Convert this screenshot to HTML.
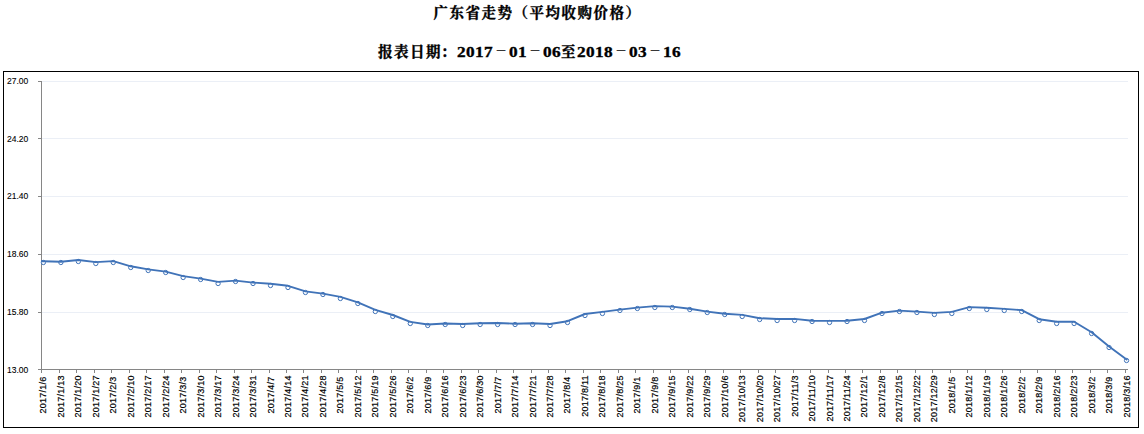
<!DOCTYPE html>
<html lang="zh-CN">
<head>
<meta charset="utf-8">
<title>广东省走势（平均收购价格）</title>
<style>
html,body{margin:0;padding:0;background:#fff;}
body{width:1144px;height:434px;position:relative;overflow:hidden;}
.t{position:absolute;white-space:nowrap;color:#000;font-family:"Liberation Serif","Noto Serif CJK SC",serif;font-weight:bold;font-size:14.5px;letter-spacing:1.5px;line-height:16px;height:16px;-webkit-text-stroke:0.35px #000;}
.t1{left:433.5px;top:5px;}
.t2{left:377px;top:43.5px;}
.t2 u{text-decoration:none;position:relative;left:1px;}
.t2 b{font-weight:bold;font-size:15px;letter-spacing:0.33px;display:inline-block;width:18px;transform:scaleX(1.15);transform-origin:0 50%;}
.t2 b.d4{width:36px;}
.t2 i{font-style:normal;display:inline-block;width:16px;letter-spacing:0;text-align:center;transform:scaleX(0.8);-webkit-text-stroke:0;font-weight:bold;position:relative;top:-1px;}
svg{position:absolute;left:0;top:0;}
.yl{font-family:"Liberation Sans",sans-serif;font-size:8.5px;fill:#000000;stroke:#000;stroke-width:0.1px;}
.xl{font-family:"Liberation Sans",sans-serif;font-size:9px;fill:#000000;letter-spacing:0.23px;stroke:#000;stroke-width:0.2px;}
</style>
</head>
<body>
<div class="t t1">广东省走势（平均收购价格）</div>
<div class="t t2"><u>报表日期</u>：<b class="d4">2017</b><i>－</i><b>01</b><i>－</i><b>06</b>至<b class="d4">2018</b><i>－</i><b>03</b><i>－</i><b>16</b></div>
<svg width="1144" height="434" viewBox="0 0 1144 434">
<rect x="3.5" y="71.5" width="1135" height="356" fill="none" stroke="#000" stroke-width="1" shape-rendering="crispEdges"/>
<g shape-rendering="crispEdges">
<rect x="42" y="81" width="1086" height="1" fill="#ebeff6"/>
<rect x="42" y="138" width="1086" height="1" fill="#ebeff6"/>
<rect x="42" y="196" width="1086" height="1" fill="#ebeff6"/>
<rect x="42" y="254" width="1086" height="1" fill="#ebeff6"/>
<rect x="42" y="312" width="1086" height="1" fill="#ebeff6"/>
<rect x="41" y="81" width="1" height="289" fill="#868686"/>
<rect x="41" y="369" width="1087" height="1" fill="#868686"/>
<rect x="38" y="81" width="3" height="1" fill="#868686"/>
<rect x="38" y="138" width="3" height="1" fill="#868686"/>
<rect x="38" y="196" width="3" height="1" fill="#868686"/>
<rect x="38" y="254" width="3" height="1" fill="#868686"/>
<rect x="38" y="312" width="3" height="1" fill="#868686"/>
<rect x="38" y="369" width="3" height="1" fill="#868686"/>
<rect x="41" y="370" width="1" height="3" fill="#868686"/>
<rect x="59" y="370" width="1" height="3" fill="#868686"/>
<rect x="76" y="370" width="1" height="3" fill="#868686"/>
<rect x="94" y="370" width="1" height="3" fill="#868686"/>
<rect x="111" y="370" width="1" height="3" fill="#868686"/>
<rect x="129" y="370" width="1" height="3" fill="#868686"/>
<rect x="146" y="370" width="1" height="3" fill="#868686"/>
<rect x="164" y="370" width="1" height="3" fill="#868686"/>
<rect x="181" y="370" width="1" height="3" fill="#868686"/>
<rect x="199" y="370" width="1" height="3" fill="#868686"/>
<rect x="216" y="370" width="1" height="3" fill="#868686"/>
<rect x="234" y="370" width="1" height="3" fill="#868686"/>
<rect x="251" y="370" width="1" height="3" fill="#868686"/>
<rect x="269" y="370" width="1" height="3" fill="#868686"/>
<rect x="286" y="370" width="1" height="3" fill="#868686"/>
<rect x="303" y="370" width="1" height="3" fill="#868686"/>
<rect x="321" y="370" width="1" height="3" fill="#868686"/>
<rect x="338" y="370" width="1" height="3" fill="#868686"/>
<rect x="356" y="370" width="1" height="3" fill="#868686"/>
<rect x="373" y="370" width="1" height="3" fill="#868686"/>
<rect x="391" y="370" width="1" height="3" fill="#868686"/>
<rect x="408" y="370" width="1" height="3" fill="#868686"/>
<rect x="426" y="370" width="1" height="3" fill="#868686"/>
<rect x="443" y="370" width="1" height="3" fill="#868686"/>
<rect x="461" y="370" width="1" height="3" fill="#868686"/>
<rect x="478" y="370" width="1" height="3" fill="#868686"/>
<rect x="496" y="370" width="1" height="3" fill="#868686"/>
<rect x="513" y="370" width="1" height="3" fill="#868686"/>
<rect x="531" y="370" width="1" height="3" fill="#868686"/>
<rect x="548" y="370" width="1" height="3" fill="#868686"/>
<rect x="565" y="370" width="1" height="3" fill="#868686"/>
<rect x="583" y="370" width="1" height="3" fill="#868686"/>
<rect x="600" y="370" width="1" height="3" fill="#868686"/>
<rect x="618" y="370" width="1" height="3" fill="#868686"/>
<rect x="635" y="370" width="1" height="3" fill="#868686"/>
<rect x="653" y="370" width="1" height="3" fill="#868686"/>
<rect x="670" y="370" width="1" height="3" fill="#868686"/>
<rect x="688" y="370" width="1" height="3" fill="#868686"/>
<rect x="705" y="370" width="1" height="3" fill="#868686"/>
<rect x="723" y="370" width="1" height="3" fill="#868686"/>
<rect x="740" y="370" width="1" height="3" fill="#868686"/>
<rect x="758" y="370" width="1" height="3" fill="#868686"/>
<rect x="775" y="370" width="1" height="3" fill="#868686"/>
<rect x="793" y="370" width="1" height="3" fill="#868686"/>
<rect x="810" y="370" width="1" height="3" fill="#868686"/>
<rect x="828" y="370" width="1" height="3" fill="#868686"/>
<rect x="845" y="370" width="1" height="3" fill="#868686"/>
<rect x="862" y="370" width="1" height="3" fill="#868686"/>
<rect x="880" y="370" width="1" height="3" fill="#868686"/>
<rect x="897" y="370" width="1" height="3" fill="#868686"/>
<rect x="915" y="370" width="1" height="3" fill="#868686"/>
<rect x="932" y="370" width="1" height="3" fill="#868686"/>
<rect x="950" y="370" width="1" height="3" fill="#868686"/>
<rect x="967" y="370" width="1" height="3" fill="#868686"/>
<rect x="985" y="370" width="1" height="3" fill="#868686"/>
<rect x="1002" y="370" width="1" height="3" fill="#868686"/>
<rect x="1020" y="370" width="1" height="3" fill="#868686"/>
<rect x="1037" y="370" width="1" height="3" fill="#868686"/>
<rect x="1055" y="370" width="1" height="3" fill="#868686"/>
<rect x="1072" y="370" width="1" height="3" fill="#868686"/>
<rect x="1090" y="370" width="1" height="3" fill="#868686"/>
<rect x="1107" y="370" width="1" height="3" fill="#868686"/>
<rect x="1125" y="370" width="1" height="3" fill="#868686"/>
</g>
<text class="yl" x="7" y="84.2">27.00</text>
<text class="yl" x="7" y="141.6">24.20</text>
<text class="yl" x="7" y="198.9">21.40</text>
<text class="yl" x="7" y="257.3">18.60</text>
<text class="yl" x="7" y="315.3">15.80</text>
<text class="yl" x="7" y="372.9">13.00</text>
<text class="xl" text-anchor="end" transform="translate(46.2,376.6) rotate(-90)">2017/1/6</text>
<text class="xl" text-anchor="end" transform="translate(64.2,375.3) rotate(-90)">2017/1/13</text>
<text class="xl" text-anchor="end" transform="translate(81.2,375.3) rotate(-90)">2017/1/20</text>
<text class="xl" text-anchor="end" transform="translate(99.2,375.3) rotate(-90)">2017/1/27</text>
<text class="xl" text-anchor="end" transform="translate(116.2,376.6) rotate(-90)">2017/2/3</text>
<text class="xl" text-anchor="end" transform="translate(134.2,375.3) rotate(-90)">2017/2/10</text>
<text class="xl" text-anchor="end" transform="translate(151.2,375.3) rotate(-90)">2017/2/17</text>
<text class="xl" text-anchor="end" transform="translate(169.2,375.3) rotate(-90)">2017/2/24</text>
<text class="xl" text-anchor="end" transform="translate(186.2,376.6) rotate(-90)">2017/3/3</text>
<text class="xl" text-anchor="end" transform="translate(204.2,375.3) rotate(-90)">2017/3/10</text>
<text class="xl" text-anchor="end" transform="translate(221.2,375.3) rotate(-90)">2017/3/17</text>
<text class="xl" text-anchor="end" transform="translate(239.2,375.3) rotate(-90)">2017/3/24</text>
<text class="xl" text-anchor="end" transform="translate(256.2,375.3) rotate(-90)">2017/3/31</text>
<text class="xl" text-anchor="end" transform="translate(274.2,376.6) rotate(-90)">2017/4/7</text>
<text class="xl" text-anchor="end" transform="translate(291.2,375.3) rotate(-90)">2017/4/14</text>
<text class="xl" text-anchor="end" transform="translate(308.2,375.3) rotate(-90)">2017/4/21</text>
<text class="xl" text-anchor="end" transform="translate(326.2,375.3) rotate(-90)">2017/4/28</text>
<text class="xl" text-anchor="end" transform="translate(343.2,376.6) rotate(-90)">2017/5/5</text>
<text class="xl" text-anchor="end" transform="translate(361.2,375.3) rotate(-90)">2017/5/12</text>
<text class="xl" text-anchor="end" transform="translate(378.2,375.3) rotate(-90)">2017/5/19</text>
<text class="xl" text-anchor="end" transform="translate(396.2,375.3) rotate(-90)">2017/5/26</text>
<text class="xl" text-anchor="end" transform="translate(413.2,376.6) rotate(-90)">2017/6/2</text>
<text class="xl" text-anchor="end" transform="translate(431.2,376.6) rotate(-90)">2017/6/9</text>
<text class="xl" text-anchor="end" transform="translate(448.2,375.3) rotate(-90)">2017/6/16</text>
<text class="xl" text-anchor="end" transform="translate(466.2,375.3) rotate(-90)">2017/6/23</text>
<text class="xl" text-anchor="end" transform="translate(483.2,375.3) rotate(-90)">2017/6/30</text>
<text class="xl" text-anchor="end" transform="translate(501.2,376.6) rotate(-90)">2017/7/7</text>
<text class="xl" text-anchor="end" transform="translate(518.2,375.3) rotate(-90)">2017/7/14</text>
<text class="xl" text-anchor="end" transform="translate(536.2,375.3) rotate(-90)">2017/7/21</text>
<text class="xl" text-anchor="end" transform="translate(553.2,375.3) rotate(-90)">2017/7/28</text>
<text class="xl" text-anchor="end" transform="translate(570.2,376.6) rotate(-90)">2017/8/4</text>
<text class="xl" text-anchor="end" transform="translate(588.2,375.3) rotate(-90)">2017/8/11</text>
<text class="xl" text-anchor="end" transform="translate(605.2,375.3) rotate(-90)">2017/8/18</text>
<text class="xl" text-anchor="end" transform="translate(623.2,375.3) rotate(-90)">2017/8/25</text>
<text class="xl" text-anchor="end" transform="translate(640.2,376.6) rotate(-90)">2017/9/1</text>
<text class="xl" text-anchor="end" transform="translate(658.2,376.6) rotate(-90)">2017/9/8</text>
<text class="xl" text-anchor="end" transform="translate(675.2,375.3) rotate(-90)">2017/9/15</text>
<text class="xl" text-anchor="end" transform="translate(693.2,375.3) rotate(-90)">2017/9/22</text>
<text class="xl" text-anchor="end" transform="translate(710.2,375.3) rotate(-90)">2017/9/29</text>
<text class="xl" text-anchor="end" transform="translate(728.2,375.3) rotate(-90)">2017/10/6</text>
<text class="xl" text-anchor="end" transform="translate(745.2,374.9) rotate(-90)">2017/10/13</text>
<text class="xl" text-anchor="end" transform="translate(763.2,374.9) rotate(-90)">2017/10/20</text>
<text class="xl" text-anchor="end" transform="translate(780.2,374.9) rotate(-90)">2017/10/27</text>
<text class="xl" text-anchor="end" transform="translate(798.2,375.3) rotate(-90)">2017/11/3</text>
<text class="xl" text-anchor="end" transform="translate(815.2,374.9) rotate(-90)">2017/11/10</text>
<text class="xl" text-anchor="end" transform="translate(833.2,374.9) rotate(-90)">2017/11/17</text>
<text class="xl" text-anchor="end" transform="translate(850.2,374.9) rotate(-90)">2017/11/24</text>
<text class="xl" text-anchor="end" transform="translate(867.2,375.3) rotate(-90)">2017/12/1</text>
<text class="xl" text-anchor="end" transform="translate(885.2,375.3) rotate(-90)">2017/12/8</text>
<text class="xl" text-anchor="end" transform="translate(902.2,374.9) rotate(-90)">2017/12/15</text>
<text class="xl" text-anchor="end" transform="translate(920.2,374.9) rotate(-90)">2017/12/22</text>
<text class="xl" text-anchor="end" transform="translate(937.2,374.9) rotate(-90)">2017/12/29</text>
<text class="xl" text-anchor="end" transform="translate(955.2,376.6) rotate(-90)">2018/1/5</text>
<text class="xl" text-anchor="end" transform="translate(972.2,375.3) rotate(-90)">2018/1/12</text>
<text class="xl" text-anchor="end" transform="translate(990.2,375.3) rotate(-90)">2018/1/19</text>
<text class="xl" text-anchor="end" transform="translate(1007.2,375.3) rotate(-90)">2018/1/26</text>
<text class="xl" text-anchor="end" transform="translate(1025.2,376.6) rotate(-90)">2018/2/2</text>
<text class="xl" text-anchor="end" transform="translate(1042.2,376.6) rotate(-90)">2018/2/9</text>
<text class="xl" text-anchor="end" transform="translate(1060.2,375.3) rotate(-90)">2018/2/16</text>
<text class="xl" text-anchor="end" transform="translate(1077.2,375.3) rotate(-90)">2018/2/23</text>
<text class="xl" text-anchor="end" transform="translate(1095.2,376.6) rotate(-90)">2018/3/2</text>
<text class="xl" text-anchor="end" transform="translate(1112.2,376.6) rotate(-90)">2018/3/9</text>
<text class="xl" text-anchor="end" transform="translate(1130.2,375.3) rotate(-90)">2018/3/16</text>
<circle cx="43.40" cy="262.50" r="2.15" fill="#fff" stroke="#4073b8" stroke-width="1"/>
<circle cx="60.87" cy="262.50" r="2.15" fill="#fff" stroke="#4073b8" stroke-width="1"/>
<circle cx="78.34" cy="261.50" r="2.15" fill="#fff" stroke="#4073b8" stroke-width="1"/>
<circle cx="95.81" cy="263.50" r="2.15" fill="#fff" stroke="#4073b8" stroke-width="1"/>
<circle cx="113.28" cy="262.50" r="2.15" fill="#fff" stroke="#4073b8" stroke-width="1"/>
<circle cx="130.75" cy="267.50" r="2.15" fill="#fff" stroke="#4073b8" stroke-width="1"/>
<circle cx="148.22" cy="270.50" r="2.15" fill="#fff" stroke="#4073b8" stroke-width="1"/>
<circle cx="165.69" cy="272.50" r="2.15" fill="#fff" stroke="#4073b8" stroke-width="1"/>
<circle cx="183.16" cy="277.50" r="2.15" fill="#fff" stroke="#4073b8" stroke-width="1"/>
<circle cx="200.63" cy="279.50" r="2.15" fill="#fff" stroke="#4073b8" stroke-width="1"/>
<circle cx="218.10" cy="283.50" r="2.15" fill="#fff" stroke="#4073b8" stroke-width="1"/>
<circle cx="235.57" cy="281.50" r="2.15" fill="#fff" stroke="#4073b8" stroke-width="1"/>
<circle cx="253.04" cy="283.50" r="2.15" fill="#fff" stroke="#4073b8" stroke-width="1"/>
<circle cx="270.51" cy="285.50" r="2.15" fill="#fff" stroke="#4073b8" stroke-width="1"/>
<circle cx="287.98" cy="287.50" r="2.15" fill="#fff" stroke="#4073b8" stroke-width="1"/>
<circle cx="305.45" cy="292.50" r="2.15" fill="#fff" stroke="#4073b8" stroke-width="1"/>
<circle cx="322.92" cy="294.50" r="2.15" fill="#fff" stroke="#4073b8" stroke-width="1"/>
<circle cx="340.39" cy="298.50" r="2.15" fill="#fff" stroke="#4073b8" stroke-width="1"/>
<circle cx="357.86" cy="303.50" r="2.15" fill="#fff" stroke="#4073b8" stroke-width="1"/>
<circle cx="375.33" cy="311.50" r="2.15" fill="#fff" stroke="#4073b8" stroke-width="1"/>
<circle cx="392.80" cy="316.50" r="2.15" fill="#fff" stroke="#4073b8" stroke-width="1"/>
<circle cx="410.27" cy="323.50" r="2.15" fill="#fff" stroke="#4073b8" stroke-width="1"/>
<circle cx="427.74" cy="325.50" r="2.15" fill="#fff" stroke="#4073b8" stroke-width="1"/>
<circle cx="445.21" cy="324.50" r="2.15" fill="#fff" stroke="#4073b8" stroke-width="1"/>
<circle cx="462.68" cy="325.50" r="2.15" fill="#fff" stroke="#4073b8" stroke-width="1"/>
<circle cx="480.15" cy="324.50" r="2.15" fill="#fff" stroke="#4073b8" stroke-width="1"/>
<circle cx="497.62" cy="324.50" r="2.15" fill="#fff" stroke="#4073b8" stroke-width="1"/>
<circle cx="515.09" cy="324.50" r="2.15" fill="#fff" stroke="#4073b8" stroke-width="1"/>
<circle cx="532.56" cy="324.50" r="2.15" fill="#fff" stroke="#4073b8" stroke-width="1"/>
<circle cx="550.03" cy="325.50" r="2.15" fill="#fff" stroke="#4073b8" stroke-width="1"/>
<circle cx="567.50" cy="322.50" r="2.15" fill="#fff" stroke="#4073b8" stroke-width="1"/>
<circle cx="584.97" cy="315.50" r="2.15" fill="#fff" stroke="#4073b8" stroke-width="1"/>
<circle cx="602.44" cy="313.50" r="2.15" fill="#fff" stroke="#4073b8" stroke-width="1"/>
<circle cx="619.91" cy="310.50" r="2.15" fill="#fff" stroke="#4073b8" stroke-width="1"/>
<circle cx="637.38" cy="308.50" r="2.15" fill="#fff" stroke="#4073b8" stroke-width="1"/>
<circle cx="654.85" cy="307.50" r="2.15" fill="#fff" stroke="#4073b8" stroke-width="1"/>
<circle cx="672.32" cy="307.50" r="2.15" fill="#fff" stroke="#4073b8" stroke-width="1"/>
<circle cx="689.79" cy="309.50" r="2.15" fill="#fff" stroke="#4073b8" stroke-width="1"/>
<circle cx="707.26" cy="312.50" r="2.15" fill="#fff" stroke="#4073b8" stroke-width="1"/>
<circle cx="724.73" cy="314.50" r="2.15" fill="#fff" stroke="#4073b8" stroke-width="1"/>
<circle cx="742.20" cy="316.50" r="2.15" fill="#fff" stroke="#4073b8" stroke-width="1"/>
<circle cx="759.67" cy="319.50" r="2.15" fill="#fff" stroke="#4073b8" stroke-width="1"/>
<circle cx="777.14" cy="320.50" r="2.15" fill="#fff" stroke="#4073b8" stroke-width="1"/>
<circle cx="794.61" cy="320.50" r="2.15" fill="#fff" stroke="#4073b8" stroke-width="1"/>
<circle cx="812.08" cy="321.50" r="2.15" fill="#fff" stroke="#4073b8" stroke-width="1"/>
<circle cx="829.55" cy="322.50" r="2.15" fill="#fff" stroke="#4073b8" stroke-width="1"/>
<circle cx="847.02" cy="321.50" r="2.15" fill="#fff" stroke="#4073b8" stroke-width="1"/>
<circle cx="864.49" cy="320.50" r="2.15" fill="#fff" stroke="#4073b8" stroke-width="1"/>
<circle cx="881.96" cy="313.50" r="2.15" fill="#fff" stroke="#4073b8" stroke-width="1"/>
<circle cx="899.43" cy="311.50" r="2.15" fill="#fff" stroke="#4073b8" stroke-width="1"/>
<circle cx="916.90" cy="312.50" r="2.15" fill="#fff" stroke="#4073b8" stroke-width="1"/>
<circle cx="934.37" cy="314.50" r="2.15" fill="#fff" stroke="#4073b8" stroke-width="1"/>
<circle cx="951.84" cy="313.50" r="2.15" fill="#fff" stroke="#4073b8" stroke-width="1"/>
<circle cx="969.31" cy="308.50" r="2.15" fill="#fff" stroke="#4073b8" stroke-width="1"/>
<circle cx="986.78" cy="309.50" r="2.15" fill="#fff" stroke="#4073b8" stroke-width="1"/>
<circle cx="1004.25" cy="310.50" r="2.15" fill="#fff" stroke="#4073b8" stroke-width="1"/>
<circle cx="1021.72" cy="311.50" r="2.15" fill="#fff" stroke="#4073b8" stroke-width="1"/>
<circle cx="1039.19" cy="320.50" r="2.15" fill="#fff" stroke="#4073b8" stroke-width="1"/>
<circle cx="1056.66" cy="323.50" r="2.15" fill="#fff" stroke="#4073b8" stroke-width="1"/>
<circle cx="1074.13" cy="323.50" r="2.15" fill="#fff" stroke="#4073b8" stroke-width="1"/>
<circle cx="1091.60" cy="333.50" r="2.15" fill="#fff" stroke="#4073b8" stroke-width="1"/>
<circle cx="1109.07" cy="347.50" r="2.15" fill="#fff" stroke="#4073b8" stroke-width="1"/>
<circle cx="1126.54" cy="360.50" r="2.15" fill="#fff" stroke="#4073b8" stroke-width="1"/>
<polyline points="41.9,261.25 43.40,261.30 60.87,261.70 78.34,260.00 95.81,262.10 113.28,261.10 130.75,266.30 148.22,269.40 165.69,271.60 183.16,276.10 200.63,278.60 218.10,281.90 235.57,280.60 253.04,282.60 270.51,283.80 287.98,285.80 305.45,291.40 322.92,293.60 340.39,296.90 357.86,302.40 375.33,309.80 392.80,315.00 410.27,321.90 427.74,324.50 445.21,323.50 462.68,324.00 480.15,323.20 497.62,323.00 515.09,323.70 532.56,323.20 550.03,324.00 567.50,321.20 584.97,314.00 602.44,311.90 619.91,309.60 637.38,307.60 654.85,306.10 672.32,306.60 689.79,308.70 707.26,311.60 724.73,313.70 742.20,314.90 759.67,318.20 777.14,319.00 794.61,318.90 812.08,320.70 829.55,320.90 847.02,320.70 864.49,319.00 881.96,312.70 899.43,310.60 916.90,311.60 934.37,312.90 951.84,311.90 969.31,307.10 986.78,307.80 1004.25,308.90 1021.72,310.10 1039.19,319.20 1056.66,321.80 1074.13,321.80 1091.60,332.30 1109.07,346.60 1126.54,359.40" fill="none" stroke="#4073b8" stroke-width="1.9" stroke-linejoin="round" stroke-linecap="square"/>
</svg>
</body>
</html>
